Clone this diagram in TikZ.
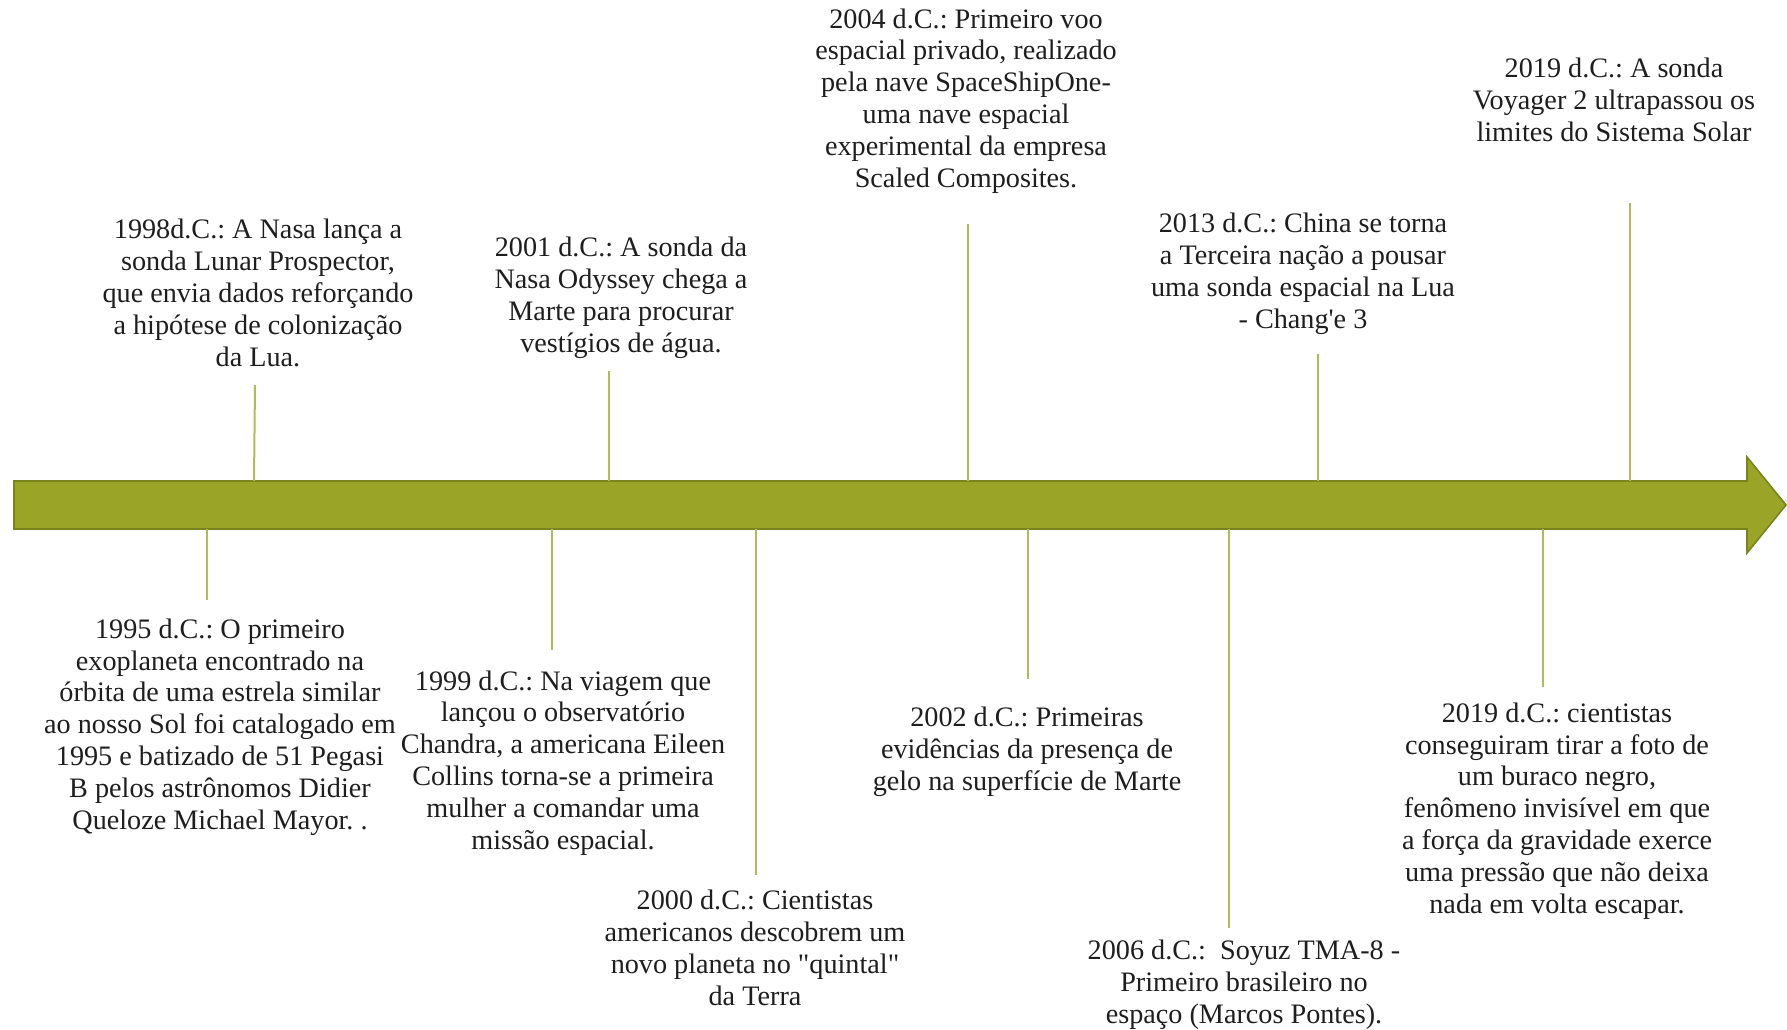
\documentclass[tikz,border=0pt]{standalone}
\usepackage{fontspec}
\setmainfont{Liberation Serif}[Ligatures=TeXOff]
\definecolor{arrowfill}{RGB}{154,165,40}
\definecolor{arrowline}{RGB}{122,132,30}
\definecolor{tickcol}{RGB}{176,186,88}
\definecolor{txt}{RGB}{30,30,30}
\begin{document}
\frenchspacing
\begin{tikzpicture}[x=0.5pt,y=-0.5pt,
  evt/.style={align=center, inner sep=0pt, anchor=base, font=\fontsize{14.1}{15.9}\selectfont\frenchspacing, text=txt},
  tickline/.style={draw=tickcol, line width=1pt},
  timearrow/.style={fill=arrowfill, draw=arrowline, line width=0.8pt, line join=miter}]
\useasboundingbox (0,0) rectangle (1787,1029);

% main arrow
\coordinate (bodyTL) at (14,481);
\coordinate (headA) at (1747,481);
\coordinate (headB) at (1747,457);
\coordinate (tip) at (1786,505);
\coordinate (headC) at (1747,553);
\coordinate (headD) at (1747,529);
\coordinate (bodyBL) at (14,529);
\path[timearrow] (bodyTL) -- (headA) -- (headB) -- (tip) -- (headC) -- (headD) -- (bodyBL) -- cycle;

% texts above (positioned at the baseline of their last line)
\node[evt] (t1998) at (258,366) {1998d.C.: A Nasa lança a\\sonda Lunar Prospector,\\que envia dados reforçando\\a hipótese de colonização\\da Lua.};
\node[evt] (t2001) at (621,352) {2001 d.C.: A sonda da\\Nasa Odyssey chega a\\Marte para procurar\\vestígios de água.};
\node[evt] (t2004) at (966,187) {2004 d.C.: Primeiro voo\\espacial privado, realizado\\pela nave SpaceShipOne-\\uma nave espacial\\experimental da empresa\\Scaled Composites.};
\node[evt] (t2013) at (1303,328) {2013 d.C.: China se torna\\a Terceira nação a pousar\\uma sonda espacial na Lua\\- Chang'e 3};
\node[evt] (t2019a) at (1614,141) {2019 d.C.: A sonda\\Voyager 2 ultrapassou os\\limites do Sistema Solar};

% texts below
\node[evt] (t1995) at (220,829) {1995 d.C.: O primeiro\\exoplaneta encontrado na\\órbita de uma estrela similar\\ao nosso Sol foi catalogado em\\1995 e batizado de 51 Pegasi\\B pelos astrônomos Didier\\Queloze Michael Mayor. .};
\node[evt] (t1999) at (563,849) {1999 d.C.: Na viagem que\\lançou o observatório\\Chandra, a americana Eileen\\Collins torna-se a primeira\\mulher a comandar uma\\missão espacial.};
\node[evt] (t2000) at (755,1005) {2000 d.C.: Cientistas\\americanos descobrem um\\novo planeta no "quintal"\\da Terra};
\node[evt] (t2002) at (1027,790) {2002 d.C.: Primeiras\\evidências da presença de\\gelo na superfície de Marte};
\node[evt] (t2006) at (1244,1023) {2006 d.C.:\ \ Soyuz TMA-8 -\\Primeiro brasileiro no\\espaço (Marcos Pontes).};
\node[evt] (t2019b) at (1557,913) {2019 d.C.: cientistas\\conseguiram tirar a foto de\\um buraco negro,\\fenômeno invisível em que\\a força da gravidade exerce\\uma pressão que não deixa\\nada em volta escapar.};

% connector ends
\coordinate (a1998) at (254,481); \coordinate (e1998) at (255,385);
\coordinate (a2001) at (609,481); \coordinate (e2001) at (609,371);
\coordinate (a2004) at (968,481); \coordinate (e2004) at (968,224);
\coordinate (a2013) at (1318,481); \coordinate (e2013) at (1318,354);
\coordinate (a2019a) at (1630,481); \coordinate (e2019a) at (1630,203);
\coordinate (a1995) at (207,529); \coordinate (e1995) at (207,600);
\coordinate (a1999) at (552,529); \coordinate (e1999) at (552,650);
\coordinate (a2000) at (756,529); \coordinate (e2000) at (756,875);
\coordinate (a2002) at (1028,529); \coordinate (e2002) at (1028,679);
\coordinate (a2006) at (1229,529); \coordinate (e2006) at (1229,928);
\coordinate (a2019b) at (1543,529); \coordinate (e2019b) at (1543,687);

\foreach \k in {1998,2001,2004,2013,2019a,1995,1999,2000,2002,2006,2019b}
  \draw[tickline] (a\k) -- (e\k);
\end{tikzpicture}
\end{document}
